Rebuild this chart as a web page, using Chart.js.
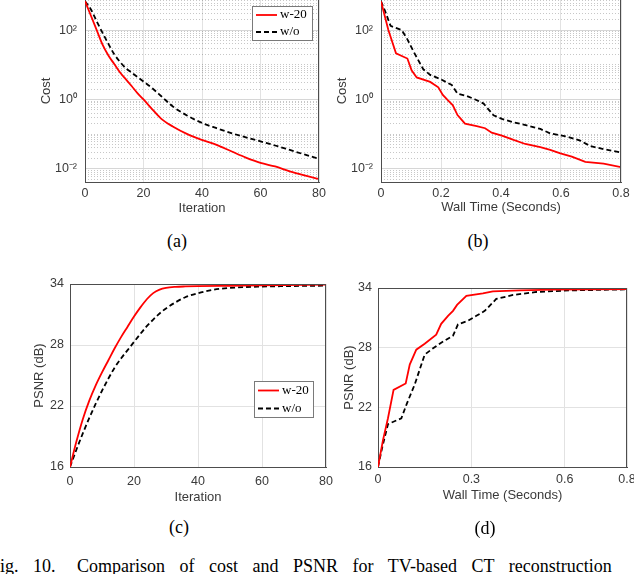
<!DOCTYPE html>
<html><head><meta charset="utf-8">
<script src="https://cdn.jsdelivr.net/npm/chart.js@4.4.1/dist/chart.umd.min.js"></script>
<style>
html,body{margin:0;padding:0;background:#fff;}
#page{position:relative;width:634px;height:574px;overflow:hidden;background:#fff;}
#page canvas{position:absolute;}
.lab{position:absolute;font-family:"Liberation Serif","Times New Roman",serif;font-size:18px;color:#000;transform:translate(-50%,-50%);white-space:nowrap;line-height:1;}
#caption{position:absolute;left:-10px;top:557px;font-family:"Liberation Serif","Times New Roman",serif;font-size:18px;line-height:1;white-space:nowrap;word-spacing:10px;color:#000;}
#caption span{margin-left:7px;}
</style></head>
<body>
<div id="page">
  <canvas id="ca" width="330" height="230" style="left:0;top:0"></canvas>
  <canvas id="cb" width="304" height="230" style="left:330px;top:0"></canvas>
  <canvas id="cc" width="340" height="245" style="left:0;top:270px"></canvas>
  <canvas id="cd" width="320" height="245" style="left:330px;top:270px"></canvas>
  <div class="lab" style="left:177px;top:241px">(a)</div>
  <div class="lab" style="left:478px;top:241px">(b)</div>
  <div class="lab" style="left:179px;top:527px">(c)</div>
  <div class="lab" style="left:485px;top:528px">(d)</div>
  <div id="caption">Fig. 10. <span>Comparison of cost and PSNR for TV-based CT reconstruction</span></div>
</div>
<script>
// ---------- data ----------
const seriesNames = ['w-20', 'w/o'];

// (a) cost vs iteration
const iterA     = [0, 2, 4, 6, 8, 10, 12, 14, 16, 18, 20, 23, 26, 30, 35, 40, 45, 50, 55, 60, 65, 70, 75, 80];
const costW20A  = [680, 263, 100, 38, 18.5, 10.5, 6.0, 3.8, 2.4, 1.5, 1.0, 0.52, 0.28, 0.166, 0.10, 0.068, 0.049, 0.032, 0.021, 0.0148, 0.0117, 0.0085, 0.0065, 0.0051];
const costWoA   = [680, 398, 178, 83, 40, 20, 12, 7.9, 5.9, 4.4, 3.3, 2.1, 1.26, 0.63, 0.34, 0.21, 0.148, 0.107, 0.081, 0.062, 0.047, 0.035, 0.026, 0.0195];

// (b) cost vs wall time
const timeW20B  = [0, 0.0245, 0.05, 0.088, 0.102, 0.119, 0.164, 0.191, 0.206, 0.2225, 0.239, 0.255, 0.28, 0.319, 0.347, 0.369, 0.403, 0.442, 0.481, 0.531, 0.564, 0.598, 0.636, 0.681, 0.742, 0.8];
const costW20B  = [676, 100, 21.4, 15.1, 6.9, 4.3, 3.2, 2.24, 1.35, 0.95, 0.69, 0.355, 0.2, 0.17, 0.148, 0.11, 0.091, 0.068, 0.052, 0.042, 0.035, 0.028, 0.0224, 0.0158, 0.0141, 0.0112];
const timeWoB   = [0, 0.013, 0.032, 0.069, 0.088, 0.108, 0.141, 0.164, 0.197, 0.236, 0.255, 0.286, 0.314, 0.342, 0.375, 0.403, 0.442, 0.486, 0.531, 0.564, 0.62, 0.664, 0.698, 0.742, 0.8];
const costWoB   = [676, 363, 132, 100, 54, 24.5, 7.4, 5.1, 3.9, 2.6, 1.48, 1.26, 1.0, 0.76, 0.35, 0.275, 0.22, 0.178, 0.141, 0.105, 0.085, 0.065, 0.045, 0.037, 0.0295];

// (c) PSNR vs iteration
const iterW20C  = [0, 2, 4, 6, 8, 10, 12, 14, 16, 18, 20, 22, 24, 26, 28, 30, 33, 36, 40, 50, 60, 80];
const psnrW20C  = [16, 18.5, 20.7, 22.5, 24.0, 25.3, 26.5, 27.7, 28.8, 29.8, 30.8, 31.7, 32.5, 33.1, 33.45, 33.62, 33.72, 33.76, 33.79, 33.83, 33.87, 33.93];
const iterWoC   = [0, 2, 4, 6, 8, 10, 12, 14, 16, 18, 20, 22, 24, 26, 28, 30, 33, 36, 40, 45, 50, 60, 70, 80];
const psnrWoC   = [16, 17.7, 19.3, 20.8, 22.2, 23.5, 24.7, 25.8, 26.7, 27.5, 28.3, 29.1, 29.85, 30.5, 31.1, 31.6, 32.2, 32.7, 33.1, 33.45, 33.62, 33.75, 33.8, 33.84];

// (d) PSNR vs wall time
const timeW20D  = [0, 0.016, 0.032, 0.05, 0.089, 0.102, 0.123, 0.15, 0.187, 0.203, 0.225, 0.241, 0.254, 0.284, 0.337, 0.369, 0.455, 0.562, 0.8];
const psnrW20D  = [16, 18.7, 20.9, 23.76, 24.4, 26.3, 27.8, 28.4, 29.3, 30.4, 31.2, 31.7, 32.3, 33.2, 33.46, 33.66, 33.76, 33.83, 33.9];
const timeWoD   = [0, 0.014, 0.032, 0.043, 0.075, 0.093, 0.118, 0.15, 0.171, 0.203, 0.241, 0.257, 0.289, 0.316, 0.343, 0.38, 0.434, 0.509, 0.616, 0.8];
const psnrWoD   = [16, 18.03, 20.3, 20.46, 20.9, 22.4, 24.3, 27.3, 27.8, 28.5, 29.2, 30.35, 30.7, 31.2, 31.7, 32.9, 33.3, 33.6, 33.76, 33.86];

// axis ticks
const iterTicks      = [0, 20, 40, 60, 80];
const timeTicksB     = [0, 0.2, 0.4, 0.6, 0.8];
const timeTicksD     = [0, 0.3, 0.6, 0.8];
const psnrTicks      = [16, 22, 28, 34];
const costTicks      = [0.01, 1, 100];
const costTickLabels = ['10\u207B\u00B2', '10\u2070', '10\u00B2'];
const costMin = Math.pow(10, -2.38), costMax = Math.pow(10, 2.867);

// ---------- styling ----------
const TXT = '#3a3a3a';
const AXIS = '#4d4d4d';
const GRID = '#e2e2e2';
const SANS = '"Liberation Sans", Arial, Helvetica, sans-serif';
const tickFont = {family: SANS, size: 12.5};
const titleFont = {family: SANS, size: 13};

const pts = (xs, ys) => xs.map((x, i) => ({x: x, y: ys[i]}));
function series(label, xs, ys, color, dash, smooth) {
  return {label: label, data: pts(xs, ys), borderColor: color, backgroundColor: color,
    borderWidth: 1.8, borderDash: dash, pointRadius: 0, fill: false,
    tension: 0, cubicInterpolationMode: smooth ? 'monotone' : 'default'};
}

const framePlugin = {
  id: 'frameBox',
  afterDatasetsDraw(chart, args, opts) {
    const ctx = chart.ctx, a = chart.chartArea;
    ctx.save();
    ctx.strokeStyle = AXIS; ctx.lineWidth = 1; ctx.setLineDash([]);
    ctx.beginPath();
    ctx.moveTo(Math.round(a.right) - 0.5, a.bottom);
    ctx.lineTo(Math.round(a.right) - 0.5, a.top + (opts.top ? 0.5 : 0));
    if (opts.top) ctx.lineTo(a.left, Math.round(a.top) + 0.5);
    ctx.stroke();
    const L = opts.legend;
    if (L) {
      const x0 = Math.round(a.right - L.dx - L.w), y0 = Math.round(a.top + L.dy);
      ctx.fillStyle = '#fff'; ctx.fillRect(x0, y0, L.w, L.h);
      ctx.strokeStyle = '#7a7a7a'; ctx.lineWidth = 1;
      ctx.strokeRect(x0 + 0.5, y0 + 0.5, L.w, L.h);
      const n = chart.data.datasets.length;
      chart.data.datasets.forEach((d, i) => {
        const yy = y0 + L.h * (i + 0.5) / n + 0.5;
        ctx.strokeStyle = d.borderColor; ctx.lineWidth = d.borderWidth;
        ctx.setLineDash(d.borderDash || []);
        ctx.beginPath(); ctx.moveTo(x0 + 4, yy); ctx.lineTo(x0 + 25, yy); ctx.stroke();
        ctx.setLineDash([]);
        ctx.fillStyle = '#000';
        ctx.font = '13px "Liberation Serif", "Times New Roman", serif';
        ctx.textBaseline = 'middle'; ctx.textAlign = 'left';
        ctx.fillText(d.label, x0 + 28, yy);
      });
    }
    ctx.restore();
  }
};

function minorLogTicks(min, max) {
  const out = [];
  for (let k = -4; k <= 4; k++) {
    for (let m = 1; m <= 9; m++) {
      const v = m * Math.pow(10, k);
      if (v >= min && v <= max && costTicks.indexOf(v) < 0) out.push(v);
    }
  }
  return out;
}

function fixV(w) { return s => { s.width = w; s.paddingTop = 0; s.paddingBottom = 0; }; }
function fixH(h) { return s => { s.height = h; s.paddingLeft = 0; s.paddingRight = 0; }; }

function xScale(ticksArr, min, max, title, xH, tickPad, titlePad) {
  return {
    type: 'linear', position: 'bottom', min: min, max: max,
    afterBuildTicks: s => { s.ticks = ticksArr.map(v => ({value: v})); },
    afterFit: fixH(xH),
    ticks: {color: TXT, font: tickFont, padding: tickPad, maxRotation: 0, autoSkip: false,
      callback: v => String(v)},
    grid: {color: GRID, drawTicks: false, lineWidth: 1},
    border: {display: true, color: AXIS, width: 1},
    title: {display: true, text: title, color: TXT, font: titleFont, padding: {top: 0, bottom: titlePad}}
  };
}

function costYScales(yW, tickPad, titlePad) {
  return {
    y: {
      type: 'logarithmic', position: 'left', min: costMin, max: costMax,
      afterBuildTicks: s => { s.ticks = costTicks.map(v => ({value: v})); },
      afterFit: fixV(yW),
      ticks: {color: TXT, font: tickFont, padding: tickPad, autoSkip: false,
        callback: (v, i) => costTickLabels[i]},
      grid: {color: '#d6d6d6', drawTicks: false, lineWidth: 1},
      border: {display: true, color: AXIS, width: 1},
      title: {display: true, text: 'Cost', color: TXT, font: titleFont, padding: {top: titlePad, bottom: 0}}
    },
    yMinor: {
      type: 'logarithmic', position: 'left', min: costMin, max: costMax,
      afterBuildTicks: s => { s.ticks = minorLogTicks(costMin, costMax).map(v => ({value: v})); },
      afterFit: fixV(0),
      ticks: {display: false},
      grid: {color: 'rgba(0,0,0,0.22)', drawTicks: false, lineWidth: 1},
      border: {display: false, dash: [1, 2]}
    }
  };
}

function psnrYScale(yW, tickPad, titlePad) {
  return {
    type: 'linear', position: 'left', min: 16, max: 34,
    afterBuildTicks: s => { s.ticks = psnrTicks.map(v => ({value: v})); },
    afterFit: fixV(yW),
    ticks: {color: TXT, font: tickFont, padding: tickPad, autoSkip: false},
    grid: {color: GRID, drawTicks: false, lineWidth: 1},
    border: {display: true, color: AXIS, width: 1},
    title: {display: true, text: 'PSNR (dB)', color: TXT, font: titleFont, padding: {top: titlePad, bottom: 0}}
  };
}

function build(id, datasets, scales, padding, frameOpts) {
  new Chart(document.getElementById(id), {
    type: 'line',
    data: {datasets: datasets},
    options: {
      responsive: false, animation: false, devicePixelRatio: 1,
      layout: {padding: padding},
      plugins: {legend: {display: false}, tooltip: {enabled: false}, frameBox: frameOpts},
      scales: scales
    },
    plugins: [framePlugin]
  });
}

// (a)
build('ca', [
  series(seriesNames[0], iterA, costW20A, '#ff0000', [], true),
  series(seriesNames[1], iterA, costWoA, '#000000', [5, 3], true)
], Object.assign({x: xScale(iterTicks, 0, 80, 'Iteration', 48, 4, 14)}, costYScales(85, 8, 39)),
  {left: 0, right: 11, top: 0, bottom: 0},
  {top: false, legend: {dx: 7, dy: 6, w: 60, h: 34}});

// (b)
build('cb', [
  series(seriesNames[0], timeW20B, costW20B, '#ff0000', [], false),
  series(seriesNames[1], timeWoB, costWoB, '#000000', [5, 3], false)
], Object.assign({x: xScale(timeTicksB, 0, 0.8, 'Wall Time (Seconds)', 48, 4, 15)}, costYScales(51, 8, 5)),
  {left: 0, right: 13, top: 0, bottom: 0},
  {top: false});

// (c)
build('cc', [
  series(seriesNames[0], iterW20C, psnrW20C, '#ff0000', [], true),
  series(seriesNames[1], iterWoC, psnrWoC, '#000000', [5, 3], true)
], {x: xScale(iterTicks, 0, 80, 'Iteration', 48, 7, 10), y: psnrYScale(70, 6, 32)},
  {left: 0, right: 14, top: 14, bottom: 0},
  {top: true, legend: {dx: 13, dy: 97, w: 59, h: 36}});

// (d)
build('cd', [
  series(seriesNames[0], timeW20D, psnrW20D, '#ff0000', [], false),
  series(seriesNames[1], timeWoD, psnrWoD, '#000000', [5, 3], false)
], {x: xScale(timeTicksD, 0, 0.8, 'Wall Time (Seconds)', 48, 5, 12), y: psnrYScale(48, 6, 12)},
  {left: 0, right: 23, top: 18, bottom: 0},
  {top: true});
</script>
</body></html>
